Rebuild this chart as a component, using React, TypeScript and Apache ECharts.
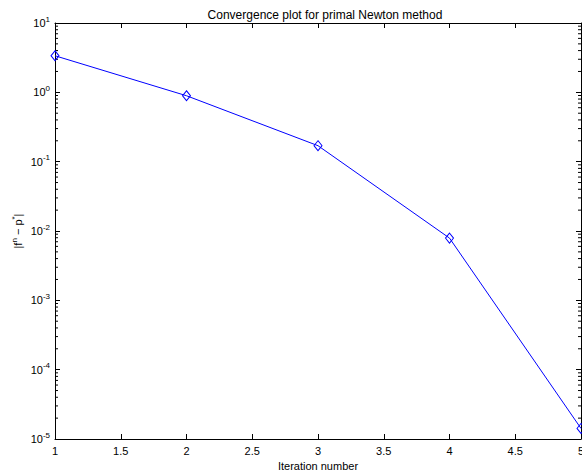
import React, { useEffect, useRef } from "react";
import * as echarts from "echarts";

const iterations = [1, 2, 3, 4, 5];
const gapValues = [3.37, 0.893, 0.17, 0.0079, 1.42e-5];
const decadeExponents = [-5, -4, -3, -2, -1, 0];
const minorMantissas = [2, 3, 4, 5, 6, 7, 8, 9];
const titleText = "Convergence plot for primal Newton method";
const xLabel = "Iteration number";

const FONT = "'Liberation Sans', Arial, Helvetica, sans-serif";

export default function App() {
  const ref = useRef<HTMLDivElement>(null);
  useEffect(() => {
    if (!ref.current) return;
    const chart = echarts.init(ref.current, null, { renderer: "svg" });
    const minorTicks: number[][] = [];
    decadeExponents.forEach((e) =>
      minorMantissas.forEach((m) => minorTicks.push([1, m * Math.pow(10, e)]))
    );
    const supLabel = (v: number) => `{b|10}{s|${Math.round(Math.log10(v))}}`;
    const axisLine = { show: true, onZero: false, lineStyle: { color: "#000", width: 1 } };
    chart.setOption({
      animation: false,
      textStyle: { fontFamily: FONT },
      title: {
        text: titleText,
        left: 320,
        top: 4,
        textAlign: "center",
        textStyle: { fontSize: 12, fontWeight: "normal", color: "#000", fontFamily: FONT },
      },
      grid: { left: 55, top: 23, right: 1, bottom: 35, containLabel: false, outerBoundsMode: "none" },
      xAxis: [
        {
          type: "value",
          position: "bottom",
          min: 1,
          max: 5,
          interval: 0.5,
          name: xLabel,
          nameLocation: "middle",
          nameGap: 21,
          nameMoveOverlap: false,
          nameTextStyle: { fontSize: 11, color: "#000", fontFamily: FONT },
          axisLine,
          axisTick: { show: true, inside: true, length: 5, lineStyle: { color: "#000" } },
          axisLabel: { color: "#000", fontSize: 11, margin: 6, fontFamily: FONT, hideOverlap: false },
          splitLine: { show: false },
        },
        {
          type: "value",
          position: "top",
          min: 1,
          max: 5,
          interval: 0.5,
          axisLine,
          axisTick: { show: true, inside: true, length: 5, lineStyle: { color: "#000" } },
          axisLabel: { show: false },
          splitLine: { show: false },
        },
      ],
      yAxis: [
        {
          type: "log",
          logBase: 10,
          position: "left",
          min: 1e-5,
          max: 10,
          splitNumber: 6,
          name: "{t||f}{s|n}{t| − p}{s|*}{t||}",
          nameLocation: "middle",
          nameGap: 30,
          nameMoveOverlap: false,
          nameRotate: 90,
          nameTextStyle: {
            color: "#000",
            fontFamily: FONT,
            rich: {
              t: { fontSize: 11, color: "#000", fontFamily: FONT },
              s: { fontSize: 8, color: "#000", fontFamily: FONT, padding: [0, 0, 7, 0] },
            },
          },
          axisLine,
          axisTick: { show: true, inside: true, length: 5, lineStyle: { color: "#000" } },
          axisLabel: {
            color: "#000",
            margin: 5,
            formatter: supLabel,
            rich: {
              b: { fontSize: 11, color: "#000", fontFamily: FONT },
              s: { fontSize: 8, color: "#000", fontFamily: FONT, padding: [0, 0, 8, 0] },
            },
          },
          splitLine: { show: false },
        },
        {
          type: "log",
          logBase: 10,
          position: "right",
          min: 1e-5,
          max: 10,
          splitNumber: 6,
          axisLine,
          axisTick: { show: true, inside: true, length: 5, lineStyle: { color: "#000" } },
          axisLabel: { show: false },
          splitLine: { show: false },
        },
      ],
      series: [
        {
          type: "custom",
          xAxisIndex: 0,
          yAxisIndex: 0,
          clip: false,
          silent: true,
          encode: { x: 0, y: 1 },
          data: minorTicks,
          renderItem: (params: any, api: any) => {
            const v = api.value(1);
            const pL = api.coord([1, v]);
            const pR = api.coord([5, v]);
            return {
              type: "group",
              children: [
                { type: "line", shape: { x1: pL[0], y1: pL[1], x2: pL[0] + 3, y2: pL[1] }, style: { stroke: "#000", lineWidth: 1 } },
                { type: "line", shape: { x1: pR[0], y1: pR[1], x2: pR[0] - 3, y2: pR[1] }, style: { stroke: "#000", lineWidth: 1 } },
              ],
            };
          },
        },
        {
          type: "line",
          xAxisIndex: 0,
          yAxisIndex: 0,
          data: iterations.map((x, i) => [x, gapValues[i]]),
          clip: false,
          symbol: "diamond",
          symbolSize: [8, 10],
          showAllSymbol: true,
          lineStyle: { color: "#0000ff", width: 1 },
          itemStyle: { color: "rgba(255,255,255,0)", borderColor: "#0000ff", borderWidth: 1 },
        },
      ],
    });
    return () => chart.dispose();
  }, []);
  return (
    <div
      ref={ref}
      style={{ position: "absolute", left: 0, top: 0, width: 582, height: 474, background: "#fff" }}
    />
  );
}
